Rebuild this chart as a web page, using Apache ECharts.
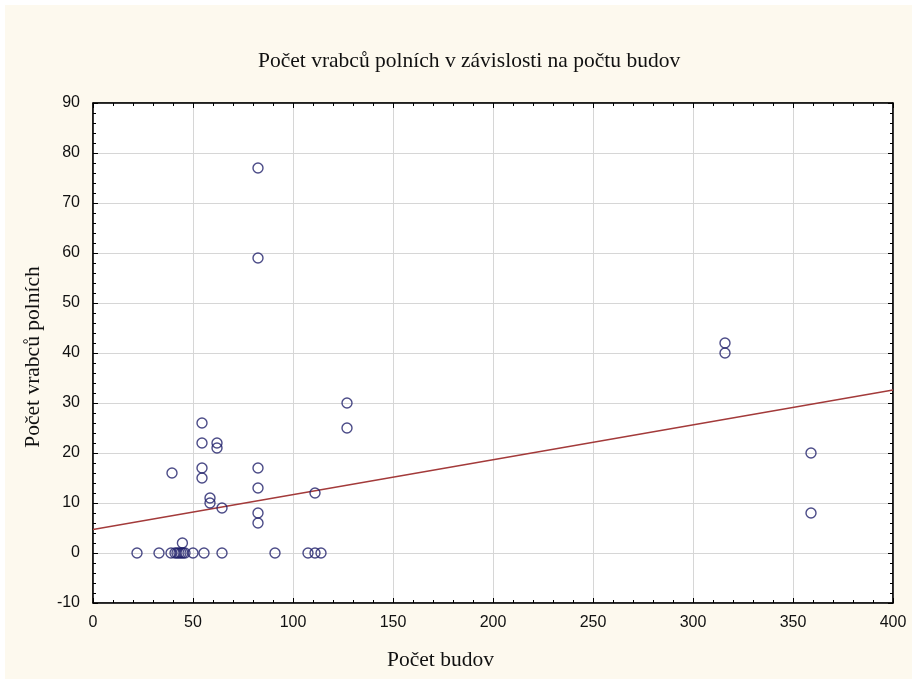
<!DOCTYPE html>
<html><head><meta charset="utf-8">
<script src="https://cdn.jsdelivr.net/npm/echarts@6/dist/echarts.min.js"></script>
<style>html,body{margin:0;padding:0;background:#fff}#c{width:912px;height:679px}</style>
</head><body><div id="c"></div>
<script>
var titleText = 'Počet vrabců polních v závislosti na počtu budov';
var xName = 'Počet budov';
var yName = 'Počet vrabců polních';
var budovy = [22, 33, 39, 41, 42, 43, 44, 45, 46, 50, 55.5, 64.5, 91, 107.5, 111, 114, 44.7, 39.5, 54.5, 54.5, 54.5, 54.5, 62, 62, 58.5, 58.5, 64.5, 82.5, 82.5, 82.5, 82.5, 82.5, 82.5, 111, 127, 127, 316, 316, 359, 359];
var vrabci = [0, 0, 0, 0, 0, 0, 0, 0, 0, 0, 0, 0, 0, 0, 0, 0, 2, 16, 26, 22, 17, 15, 22, 21, 11, 10, 9, 77, 59, 17, 13, 8, 6, 12, 25, 30, 42, 40, 20, 8];
var fitX = [0, 400];
var fitY = [4.7, 32.6];
var xTicks = [0, 50, 100, 150, 200, 250, 300, 350, 400];
var yTicks = [-10, 0, 10, 20, 30, 40, 50, 60, 70, 80, 90];

var pts = budovy.map(function (v, i) { return [v, vrabci[i]]; });
var fit = fitX.map(function (v, i) { return [v, fitY[i]]; });

var chart = echarts.init(document.getElementById('c'));
var axisCommon = {
  type: 'value',
  axisLine: { show: true, onZero: false, lineStyle: { color: '#000', width: 1.5 } },
  axisTick: { show: true, inside: true, length: 5, lineStyle: { color: '#000' } },
  minorTick: { show: true, splitNumber: 5, length: 3, lineStyle: { color: '#000' } }
};
function mk(base, extra) { return Object.assign({}, base, extra); }
var serif = '21.5px "Liberation Serif"';
chart.setOption({
  backgroundColor: '#fff',
  animation: false,
  graphic: [
    { type: 'rect', z: -10, shape: { x: 5, y: 5, width: 907, height: 674 }, style: { fill: '#fdf9ee' } },
    { type: 'text', x: 258, y: 61, style: { text: titleText, font: serif, fill: '#111', verticalAlign: 'middle' } },
    { type: 'text', x: 387, y: 660, style: { text: xName, font: serif, fill: '#111', verticalAlign: 'middle' } },
    { type: 'text', x: 33, y: 357, rotation: Math.PI / 2, style: { text: yName, font: serif, fill: '#111', align: 'center', verticalAlign: 'middle' } }
  ],
  grid: { left: 93, top: 103, width: 800, height: 500, show: true, backgroundColor: '#fff', borderColor: '#000', borderWidth: 1 },
  xAxis: [
    mk(axisCommon, { min: 0, max: 400, interval: 50, position: 'bottom',
      axisLabel: { color: '#111', fontFamily: 'Liberation Sans', fontSize: 16, margin: 12 },
      splitLine: { show: true, lineStyle: { color: '#d6d6d6' } } }),
    mk(axisCommon, { min: 0, max: 400, interval: 50, position: 'top', axisLabel: { show: false }, splitLine: { show: false } })
  ],
  yAxis: [
    mk(axisCommon, { min: -10, max: 90, interval: 10, position: 'left',
      axisLabel: { color: '#111', fontFamily: 'Liberation Sans', fontSize: 16, margin: 13 },
      splitLine: { show: true, lineStyle: { color: '#d6d6d6' } } }),
    mk(axisCommon, { min: -10, max: 90, interval: 10, position: 'right', axisLabel: { show: false }, splitLine: { show: false } })
  ],
  series: [
    { type: 'line', data: fit, showSymbol: false, symbol: 'none', lineStyle: { color: '#a33a3a', width: 1.3 }, z: 2 },
    { type: 'scatter', data: pts, symbol: 'circle', symbolSize: 10,
      itemStyle: { color: 'rgba(255,255,255,0)', borderColor: '#1f1f6a', borderWidth: 1.4 }, z: 3 }
  ]
});
</script></body></html>
